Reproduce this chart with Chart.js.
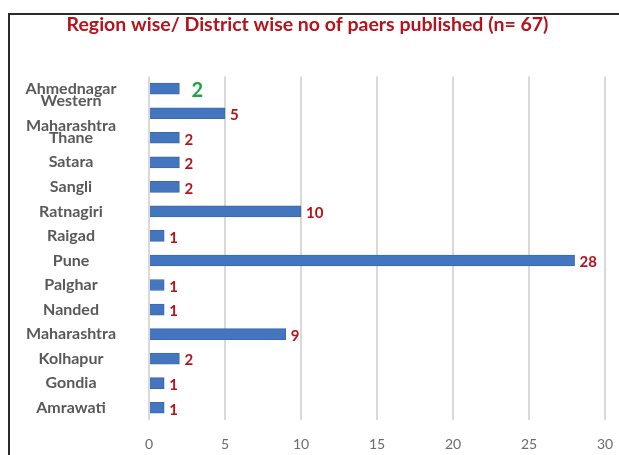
<!DOCTYPE html>
<html lang="en">
<head>
  <meta charset="UTF-8">
  <title>Region wise / District wise papers</title>
  <script src="https://cdn.jsdelivr.net/npm/chart.js"></script>
  <style>
    body {
      margin: 0;
      background: #fff;
      overflow: hidden;
    }
    .wrap {
      position: relative;
      width: 619px;
      height: 455px;
    }
    /* dark frame on top and left, like the cropped screenshot */
    .frame {
      position: absolute;
      left: 8px;
      top: 13px;
      width: 640px;
      height: 460px;
      border-top: 2px solid #2b2b2b;
      border-left: 2px solid #2b2b2b;
      pointer-events: none;
    }
    #myChart {
      position: absolute;
      left: 0;
      top: 0;
    }
  </style>
</head>
<body>
  <div class="wrap">
    <canvas id="myChart" width="619" height="455"></canvas>
    <div class="frame"></div>
  </div>

  <script>
    // Data (top to bottom)
    const regions = [
      'Ahmednagar', ['Western', 'Maharashtra'], 'Thane', 'Satara', 'Sangli',
      'Ratnagiri', 'Raigad', 'Pune', 'Palghar', 'Nanded',
      'Maharashtra', 'Kolhapur', 'Gondia', 'Amrawati'
    ];
    const papers = [2, 5, 2, 2, 2, 10, 1, 28, 1, 1, 9, 2, 1, 1];
    const xTicks = [0, 5, 10, 15, 20, 25, 30];

    const darkRed = '#b5121b';
    const green = '#1fa346';

    // category names, centred in the space left of the plot
    const regionLabels = {
      id: 'regionLabels',
      afterDraw(chart) {
        const ctx = chart.ctx;
        const yScale = chart.scales.y;
        const cx = 71;
        ctx.save();
        ctx.fillStyle = '#595959';
        ctx.font = 'bold 16px Lato';
        ctx.textAlign = 'center';
        ctx.textBaseline = 'middle';
        regions.forEach((name, i) => {
          const y = yScale.getPixelForValue(i);
          const lines = Array.isArray(name) ? name : [name];
          const lh = 25;
          lines.forEach((line, k) => {
            ctx.fillText(line, cx, y + (k - (lines.length - 1) / 2) * lh);
          });
        });
        ctx.restore();
      }
    };

    // value labels at the end of each bar
    const barLabels = {
      id: 'barLabels',
      afterDatasetsDraw(chart) {
        const ctx = chart.ctx;
        const meta = chart.getDatasetMeta(0);
        ctx.save();
        ctx.textBaseline = 'middle';
        ctx.textAlign = 'left';
        meta.data.forEach((bar, i) => {
          const first = i === 0;
          ctx.fillStyle = first ? green : darkRed;
          ctx.font = first ? 'bold 20px Lato' : 'bold 15px Lato';
          ctx.fillText(String(papers[i]), bar.x + (first ? 12 : 5), bar.y + 2);
        });
        ctx.restore();
      }
    };

    new Chart(document.getElementById('myChart'), {
      type: 'bar',
      data: {
        labels: regions,
        datasets: [{
          data: papers,
          backgroundColor: '#4475bf',
          borderColor: '#3a69ad',
          borderWidth: 1,
          barThickness: 11
        }]
      },
      plugins: [barLabels, regionLabels],
      options: {
        indexAxis: 'y',
        responsive: false,
        animation: false,
        layout: {
          padding: { left: 10, right: 14, top: 0, bottom: 4 }
        },
        plugins: {
          legend: { display: false },
          tooltip: { enabled: false },
          title: {
            display: true,
            text: 'Region wise/ District wise no of paers published (n= 67)',
            color: darkRed,
            font: { family: 'Lato', size: 19.5, weight: 'bold' },
            padding: { top: 13, bottom: 40 }
          }
        },
        scales: {
          x: {
            min: 0,
            max: 30,
            afterBuildTicks(axis) {
              axis.ticks = xTicks.map(v => ({ value: v }));
            },
            afterFit(axis) {
              axis.paddingLeft = 0;
              axis.paddingRight = 0;
              axis.height = 31;
            },
            grid: {
              color: '#d9d9d9',
              lineWidth: 2,
              drawTicks: false
            },
            border: { display: false },
            ticks: {
              color: '#6b6b6b',
              padding: 16,
              font: { family: 'Lato', size: 14 }
            }
          },
          y: {
            grid: { display: false, drawTicks: false },
            border: { display: false },
            afterFit(axis) {
              axis.width = 139;
            },
            ticks: { display: false }
          }
        }
      }
    });
  </script>
</body>
</html>
